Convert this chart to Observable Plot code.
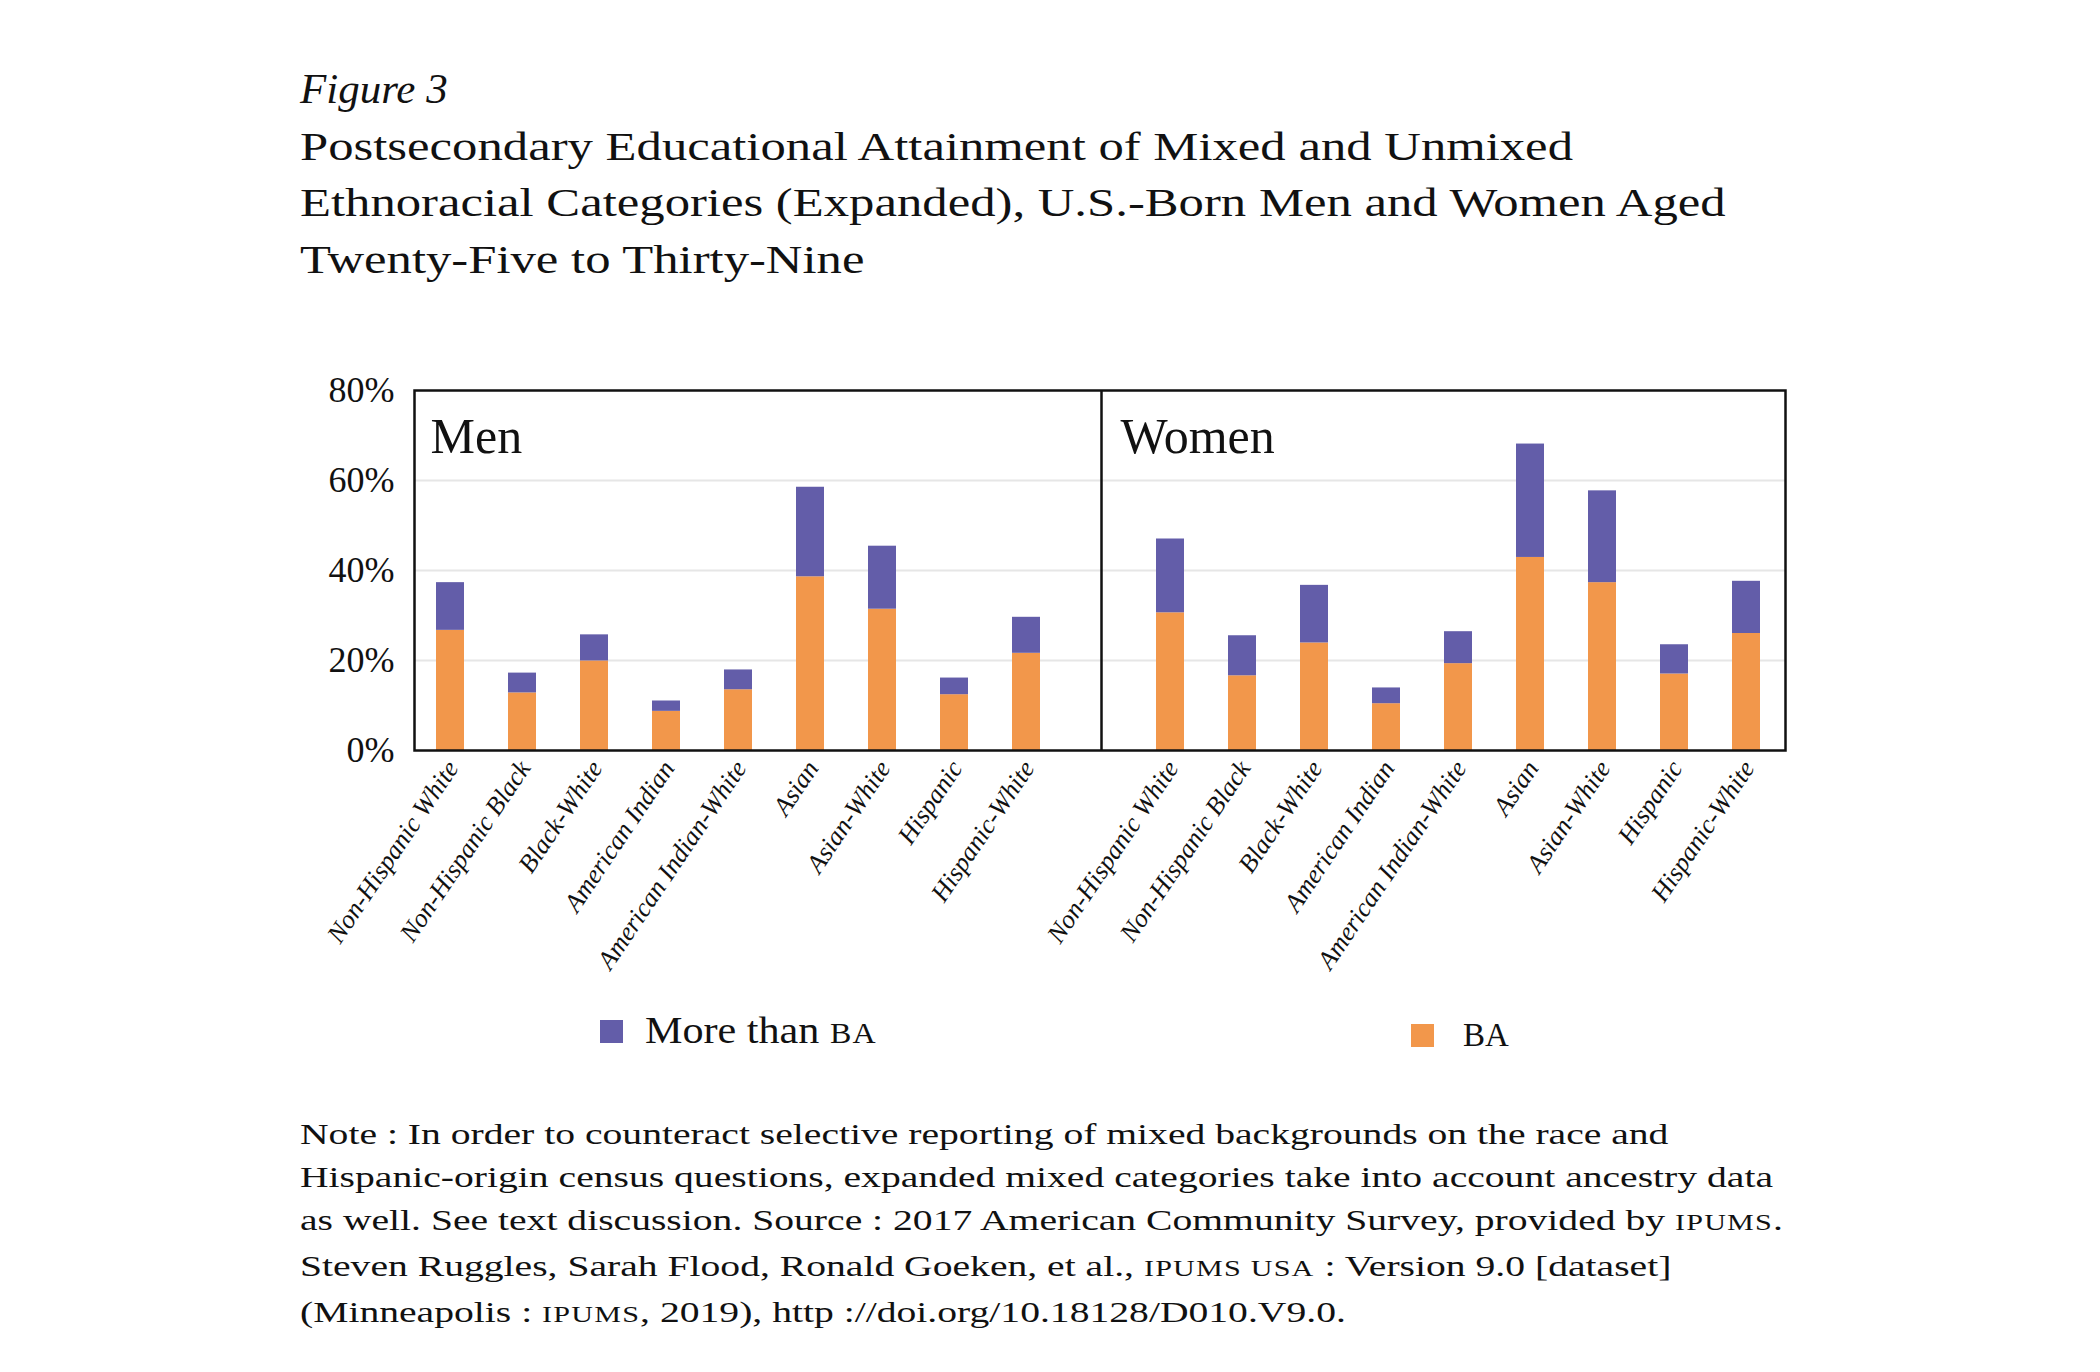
<!DOCTYPE html>
<html>
<head>
<meta charset="utf-8">
<script src="https://cdn.jsdelivr.net/npm/d3@7"></script>
<script src="https://cdn.jsdelivr.net/npm/@observablehq/plot@0.6"></script>
<style>
html, body { margin: 0; padding: 0; background: #fff; }
#page { position: relative; width: 2100px; height: 1372px; overflow: hidden;
  font-family: "Liberation Serif", "Times New Roman", serif; color: #111; }
.abs { position: absolute; white-space: nowrap; }
#title { left: 300px; top: 61px; line-height: 56.5px; font-size: 41px; }
#title .fig { display: block; font-style: italic; font-size: 43px; }
.ln { display: block; width: max-content; transform-origin: 0 0; }
.sc { font-size: 0.76em; letter-spacing: 0.04em; }
#note { left: 300px; top: 1112px; line-height: 43px; font-size: 30px; }
.sw { position: absolute; width: 23px; height: 23px; }
#chart { position: absolute; left: 0; top: 360px; }
#leg1 { left: 645px; top: 1011px; font-size: 38px; line-height: 38px; transform-origin: 0 0; }
#leg2 { left: 1463px; top: 1019px; font-size: 33px; line-height: 33px; }
</style>
</head>
<body>
<div id="page">
  <div id="title" class="abs">
    <span class="fig">Figure 3</span>
    <span class="ln" id="t1">Postsecondary Educational Attainment of Mixed and Unmixed</span>
    <span class="ln">Ethnoracial Categories (Expanded), U.S.-Born Men and Women Aged</span>
    <span class="ln">Twenty-Five to Thirty-Nine</span>
  </div>
  <div id="chart"></div>
  <div class="sw" id="sw1" style="left:600px; top:1020px;"></div>
  <div class="abs" id="leg1"></div>
  <div class="sw" id="sw2" style="left:1411px; top:1024px;"></div>
  <div class="abs" id="leg2"></div>
  <div id="note" class="abs">
    <span class="ln">Note : In order to counteract selective reporting of mixed backgrounds on the race and</span>
    <span class="ln" id="n2">Hispanic-origin census questions, expanded mixed categories take into account ancestry data</span>
    <span class="ln">as well. See text discussion. Source : 2017 American Community Survey, provided by <span class="sc">IPUMS</span>.</span>
    <span class="ln">Steven Ruggles, Sarah Flood, Ronald Goeken, et al., <span class="sc">IPUMS USA</span> : Version 9.0 [dataset]</span>
    <span class="ln">(Minneapolis : <span class="sc">IPUMS</span>, 2019), http ://doi.org/10.18128/D010.V9.0.</span>
  </div>
</div>
<script>
// ---------- data ----------
const categories = ["Non-Hispanic White", "Non-Hispanic Black", "Black-White", "American Indian",
  "American Indian-White", "Asian", "Asian-White", "Hispanic", "Hispanic-White"];
const panels = ["Men", "Women"];
const seriesNames = ["BA", "More than BA"];
const menBA            = [26.7, 12.8, 19.9, 8.7, 13.5, 38.6, 31.4, 12.4, 21.6];
const menMoreThanBA    = [10.6,  4.4,  5.8, 2.3,  4.4, 19.9, 14.0,  3.7,  8.0];
const womenBA          = [30.6, 16.6, 23.9, 10.4, 19.3, 42.9, 37.3, 17.0, 26.0];
const womenMoreThanBA  = [16.4,  8.9, 12.8,  3.5,  7.1, 25.2, 20.4,  6.5, 11.6];
const yTicks = [0, 20, 40, 60, 80];
const yGrid = [20, 40, 60];
const seriesColors = ["#f2974b", "#635da9"];

// ---------- table ----------
const GAP = "gap";
const key = (p, c) => p + "|" + c;
const xDomain = [...categories.map(c => key(panels[0], c)), GAP, ...categories.map(c => key(panels[1], c))];
const rows = [];
[[panels[0], menBA], [panels[1], womenBA]].forEach(([p, vals]) =>
  vals.forEach((v, i) => rows.push({key: key(p, categories[i]), series: seriesNames[0], value: v})));
[[panels[0], menMoreThanBA], [panels[1], womenMoreThanBA]].forEach(([p, vals]) =>
  vals.forEach((v, i) => rows.push({key: key(p, categories[i]), series: seriesNames[1], value: v})));

const chart = Plot.plot({
  width: 2100,
  height: 640,
  marginTop: 30,
  marginBottom: 250,
  marginLeft: 414,
  marginRight: 315,
  style: {fontFamily: "Liberation Serif, Times New Roman, serif", color: "#111", background: "transparent", overflow: "visible"},
  x: {domain: xDomain, range: [405, 1790], paddingInner: 0.615, paddingOuter: 0.3075, axis: null, label: null},
  y: {domain: [0, 80], axis: null, label: null},
  color: {domain: seriesNames, range: seriesColors},
  marks: [
    Plot.gridY(yGrid, {stroke: "#e6e6e6", strokeOpacity: 1, strokeWidth: 2}),
    Plot.barY(rows, {x: "key", y: "value", fill: "series"}),
    Plot.frame({stroke: "#111", strokeWidth: 2.5}),
    Plot.ruleX([GAP], {stroke: "#111", strokeWidth: 2.5, dx: 3}),
    Plot.axisY({ticks: yTicks, tickFormat: d => d + "%", tickSize: 0, tickPadding: 20, fontSize: 36, label: null}),
    Plot.axisX({ticks: xDomain.filter(k => k !== GAP), tickFormat: k => k.split("|")[1], label: null,
      tickRotate: -56, tickSize: 0, tickPadding: 13, dx: 2, fontSize: 26, fontStyle: "italic"}),
    Plot.text([panels[0]], {text: d => d, frameAnchor: "top-left", dx: 16, dy: 27, fontSize: 50}),
    Plot.text([panels[1]], {text: d => d, frameAnchor: "top-left", dx: 706, dy: 27, fontSize: 50})
  ]
});
document.getElementById("chart").appendChild(chart);

// ---------- legend ----------
document.getElementById("sw1").style.background = seriesColors[1];
document.getElementById("sw2").style.background = seriesColors[0];
document.getElementById("leg1").innerHTML = 'More than <span class="sc">' + seriesNames[0] + '</span>';
document.getElementById("leg2").textContent = seriesNames[0];

// ---------- stretch text to reference widths ----------
function fitGroup(refEl, target, els) {
  const w = refEl.getBoundingClientRect().width;
  const s = target / w;
  els.forEach(e => e.style.transform = "scaleX(" + s + ")");
}
fitGroup(document.getElementById("t1"), 1273, document.querySelectorAll("#title .ln"));
fitGroup(document.getElementById("n2"), 1473, document.querySelectorAll("#note .ln"));
const l1 = document.getElementById("leg1");
l1.style.display = "inline-block";
fitGroup(l1, 232, [l1]);
</script>
</body>
</html>
